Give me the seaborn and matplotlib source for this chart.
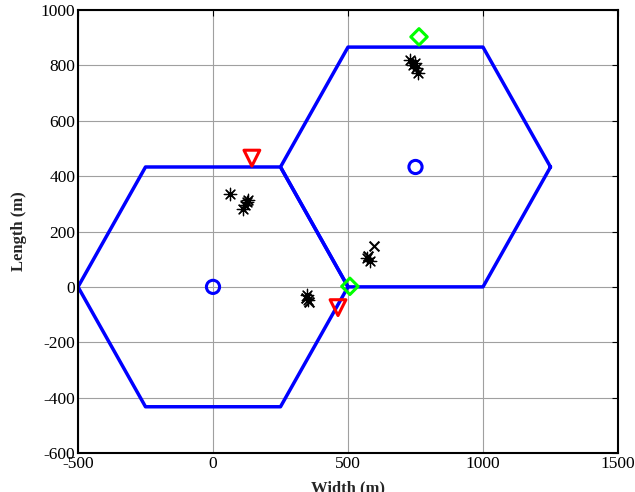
import numpy as np
import pandas as pd
import matplotlib
matplotlib.use("Agg")
import matplotlib.pyplot as plt
import seaborn as sns

# Hexagon cell outlines (vertices, closed)
hex1_x = [500, 250, -250, -500, -250, 250, 500]
hex1_y = [0, 433, 433, 0, -433, -433, 0]
hex2_x = [1250, 1000, 500, 250, 500, 1000, 1250]
hex2_y = [433, 866, 866, 433, 0, 0, 433]

# Base stations (circles)
bs_x = [0, 750]
bs_y = [0, 433]

# Red triangles
tri_x = [144, 463]
tri_y = [465, -75]

# Green diamonds
dia_x = [507, 763]
dia_y = [2, 903]

# Asterisk users
ast_x = [63, 130, 111, 119, 125, 348, 352, 570, 581, 730, 748, 759, 752, 742]
ast_y = [335, 312, 282, 296, 305, -30, -48, 105, 94, 819, 808, 773, 792, 800]

# Cross users
crs_x = [345, 355, 596, 575]
crs_y = [-40, -55, 148, 110]

sns.set_style("white")
plt.rcParams['font.family'] = ['Liberation Serif', 'DejaVu Serif']
plt.rcParams['axes.unicode_minus'] = False

fig = plt.figure(figsize=(6.35, 4.92), dpi=100)
ax = fig.add_axes([78/635, 1-453/492, 540/635, 443/492])

for hx, hy in [(hex1_x, hex1_y), (hex2_x, hex2_y)]:
    df = pd.DataFrame({"x": hx, "y": hy})
    sns.lineplot(data=df, x="x", y="y", sort=False, estimator=None,
                 color="#0000ff", linewidth=2.5, ax=ax)

sns.scatterplot(x=bs_x, y=bs_y, marker="o", s=90, facecolor="none",
                edgecolor="#0000ff", linewidth=2.2, ax=ax, zorder=5)
sns.scatterplot(x=tri_x, y=tri_y, marker="v", s=130, facecolor="none",
                edgecolor="#ff0000", linewidth=2.2, ax=ax, zorder=5)
sns.scatterplot(x=dia_x, y=dia_y, marker="D", s=70, facecolor="none",
                edgecolor="#00ff00", linewidth=2.2, ax=ax, zorder=6)
sns.scatterplot(x=ast_x, y=ast_y, marker=(8, 2, 0), s=80, color="black",
                edgecolor="black", linewidth=0.9, ax=ax, zorder=4)
sns.scatterplot(x=crs_x, y=crs_y, marker="x", s=50, color="black",
                linewidth=1.5, ax=ax, zorder=4)

ax.set_xlim(-500, 1500)
ax.set_ylim(-600, 1000)
ax.set_xticks([-500, 0, 500, 1000, 1500])
ax.set_yticks(np.arange(-600, 1001, 200))
ax.grid(True, color="#a0a0a0", linewidth=0.8)
ax.set_axisbelow(True)
ax.tick_params(direction="in", top=True, right=True, labelsize=12.5,
               length=4, width=0.8, colors="black", pad=2)
for sp in ax.spines.values():
    sp.set_color("black")
    sp.set_linewidth(1.5)
ax.set_xlabel("Width (m)", fontsize=12, fontweight="bold", labelpad=6)
ax.set_ylabel("Length (m)", fontsize=12, fontweight="bold", labelpad=10)

fig.savefig("out.png", dpi=100)
